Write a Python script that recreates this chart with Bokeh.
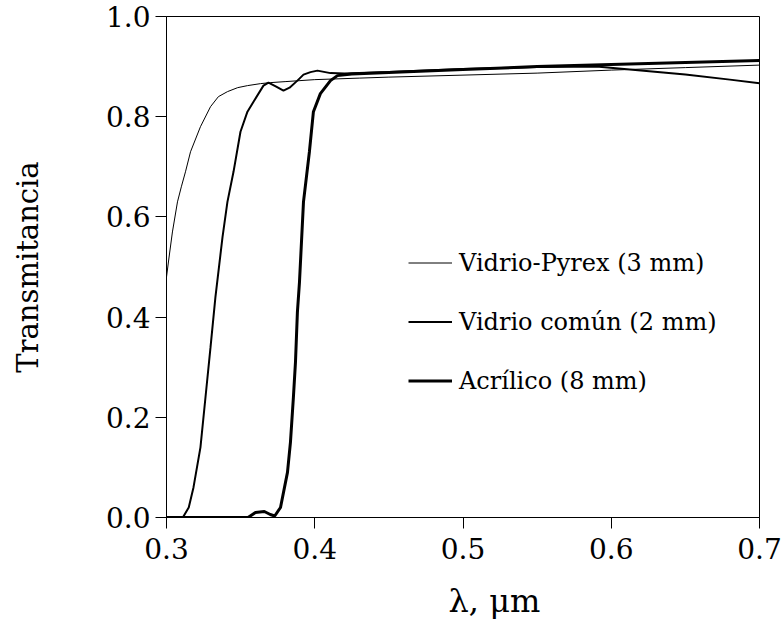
from bokeh.plotting import figure
from bokeh.models import Legend, LegendItem, Title, Range1d, PrintfTickFormatter
from bokeh.embed import file_html
from bokeh.resources import INLINE

# Data
pyrex_x = [0.3000, 0.3013, 0.3040, 0.3074, 0.3100, 0.3128, 0.3162, 0.3229, 0.3297, 0.3350,
           0.3411, 0.3480, 0.3546, 0.3634, 0.3700, 0.3800, 0.3900, 0.4000, 0.4300, 0.4500,
           0.5000, 0.5500, 0.6000, 0.6500, 0.7000]
pyrex_y = [0.48, 0.51, 0.57, 0.63, 0.66, 0.69, 0.73, 0.78, 0.82, 0.84,
           0.85, 0.858, 0.862, 0.866, 0.868, 0.870, 0.872, 0.874, 0.877, 0.879,
           0.883, 0.887, 0.893, 0.898, 0.903]

comun_x = [0.300, 0.311, 0.315, 0.3182, 0.3229, 0.3263, 0.3297, 0.3330, 0.3378, 0.3411,
           0.3452, 0.3499, 0.3546, 0.3587, 0.3654, 0.3688, 0.3740, 0.3789, 0.3830, 0.3883,
           0.3924, 0.3971, 0.4018, 0.4106, 0.4200, 0.4500, 0.5000, 0.5500, 0.5900, 0.6200,
           0.6500, 0.6800, 0.7000]
comun_y = [0.0, 0.0, 0.02, 0.06, 0.14, 0.24, 0.34, 0.44, 0.56, 0.63,
           0.69, 0.77, 0.81, 0.83, 0.862, 0.868, 0.860, 0.852, 0.858, 0.872,
           0.884, 0.889, 0.892, 0.887, 0.886, 0.889, 0.895, 0.899, 0.900, 0.892,
           0.884, 0.874, 0.867]

acril_x = [0.300, 0.355, 0.360, 0.366, 0.370, 0.373, 0.3769, 0.3816, 0.3836, 0.3856,
           0.3870, 0.3883, 0.3897, 0.3924, 0.3964, 0.3991, 0.4038, 0.4106, 0.4153, 0.4250,
           0.4500, 0.5000, 0.5500, 0.6000, 0.6500, 0.7000]
acril_y = [0.0, 0.0, 0.01, 0.012, 0.006, 0.003, 0.02, 0.09, 0.15, 0.24,
           0.31, 0.41, 0.47, 0.63, 0.73, 0.81, 0.846, 0.872, 0.882, 0.885,
           0.888, 0.894, 0.900, 0.904, 0.908, 0.912]

labels = ["Vidrio-Pyrex (3 mm)", "Vidrio común (2 mm)", "Acrílico (8 mm)"]
x_ticks = [0.3, 0.4, 0.5, 0.6, 0.7]
y_ticks = [0.0, 0.2, 0.4, 0.6, 0.8, 1.0]

FONT = "DejaVu Serif"

p = figure(width=783, height=638, output_backend="svg", toolbar_location=None,
           x_range=Range1d(0.3, 0.7), y_range=Range1d(0, 1),
           min_border_left=166, min_border_right=24, min_border_top=16, min_border_bottom=121)
p.grid.visible = False
p.outline_line_color = "black"
p.outline_line_width = 1
p.background_fill_color = "white"
p.border_fill_color = "white"

for ax in (p.xaxis[0], p.yaxis[0]):
    ax.axis_line_color = "black"
    ax.major_tick_line_color = "black"
    ax.major_tick_out = 11
    ax.major_tick_in = 0
    ax.minor_tick_out = 0
    ax.minor_tick_in = 0
    ax.major_label_text_font = FONT
    ax.major_label_text_font_size = "28px"
    ax.major_label_text_color = "black"
    ax.formatter = PrintfTickFormatter(format="%.1f")

p.xaxis.ticker = x_ticks
p.yaxis.ticker = y_ticks
p.xaxis.major_label_standoff = 9
p.yaxis.major_label_standoff = 5

p.yaxis.axis_label = "Transmitancia"
p.yaxis.axis_label_text_font = FONT
p.yaxis.axis_label_text_font_size = "29px"
p.yaxis.axis_label_text_font_style = "normal"
p.yaxis.axis_label_text_color = "black"
p.yaxis.axis_label_standoff = 58

r1 = p.line(pyrex_x, pyrex_y, line_color="black", line_width=1)
r2 = p.line(comun_x, comun_y, line_color="black", line_width=2)
r3 = p.line(acril_x, acril_y, line_color="black", line_width=3)

legend = Legend(items=[LegendItem(label=labels[0], renderers=[r1]),
                       LegendItem(label=labels[1], renderers=[r2]),
                       LegendItem(label=labels[2], renderers=[r3])],
                location=(242, 107), border_line_color=None, background_fill_alpha=0,
                padding=0, margin=0, spacing=0, glyph_width=44, glyph_height=59,
                label_height=59, label_standoff=7, label_text_font=FONT,
                label_text_font_size="24px", label_text_color="black")
p.add_layout(legend)

xlab = Title(text="λ, μm", align="left", offset=282, text_font=FONT,
             text_font_size="32px", text_font_style="normal", text_color="black",
             standoff=36)
p.add_layout(xlab, "below")

open("out.html", "w").write(file_html(p, INLINE))
